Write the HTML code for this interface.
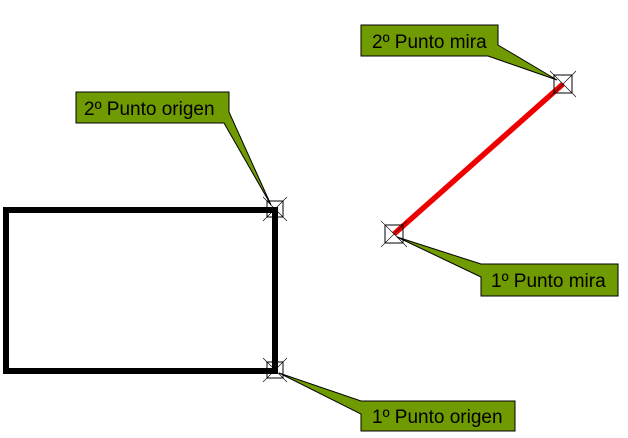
<!DOCTYPE html>
<html><head><style>
body{margin:0;background:#fff;width:628px;height:438px;overflow:hidden}
svg{display:block}
text{font-family:"Liberation Sans",sans-serif;font-size:19px;fill:#000}
</style></head><body>
<svg width="628" height="438" viewBox="0 0 628 438">
<rect x="6" y="210" width="269" height="161" fill="none" stroke="#000" stroke-width="6"/>
<line x1="394" y1="234" x2="563" y2="84" stroke="#e00" stroke-width="5.5"/>
<g stroke="#000" stroke-width="1" fill="none">
<g transform="translate(275,209)"><rect x="-8" y="-8" width="16" height="16"/><line x1="-12" y1="-12" x2="12" y2="12" stroke-width=".6"/><line x1="12" y1="-12" x2="-12" y2="12" stroke-width=".6"/></g>
<g transform="translate(275,370)"><rect x="-8" y="-8" width="16" height="16"/><line x1="-12" y1="-12" x2="12" y2="12" stroke-width=".6"/><line x1="12" y1="-12" x2="-12" y2="12" stroke-width=".6"/></g>
<g transform="translate(394,234)"><rect x="-9" y="-9" width="18" height="18"/><line x1="-13" y1="-13" x2="13" y2="13" stroke-width=".6"/><line x1="13" y1="-13" x2="-13" y2="13" stroke-width=".6"/></g>
<g transform="translate(563,84)"><rect x="-9" y="-9" width="18" height="18"/><line x1="-13" y1="-13" x2="13" y2="13" stroke-width=".6"/><line x1="13" y1="-13" x2="-13" y2="13" stroke-width=".6"/></g>
</g>
<g fill="#6f9a00" stroke="#000" stroke-width="1">
<polygon points="76,92 229,92 229,112 271,205 224,123 76,123"/>
<polygon points="361,25 498,25 498,45 557,80 488,56 361,56"/>
<polygon points="481,264 618,264 618,296 481,296 481,277 397,237"/>
<polygon points="361,401 515,401 515,431 361,431 361,414 279,373"/>
</g>
<text x="84" y="115">2º Punto origen</text>
<text x="372" y="48">2º Punto mira</text>
<text x="491" y="287">1º Punto mira</text>
<text x="372" y="423">1º Punto origen</text>
</svg>
</body></html>
